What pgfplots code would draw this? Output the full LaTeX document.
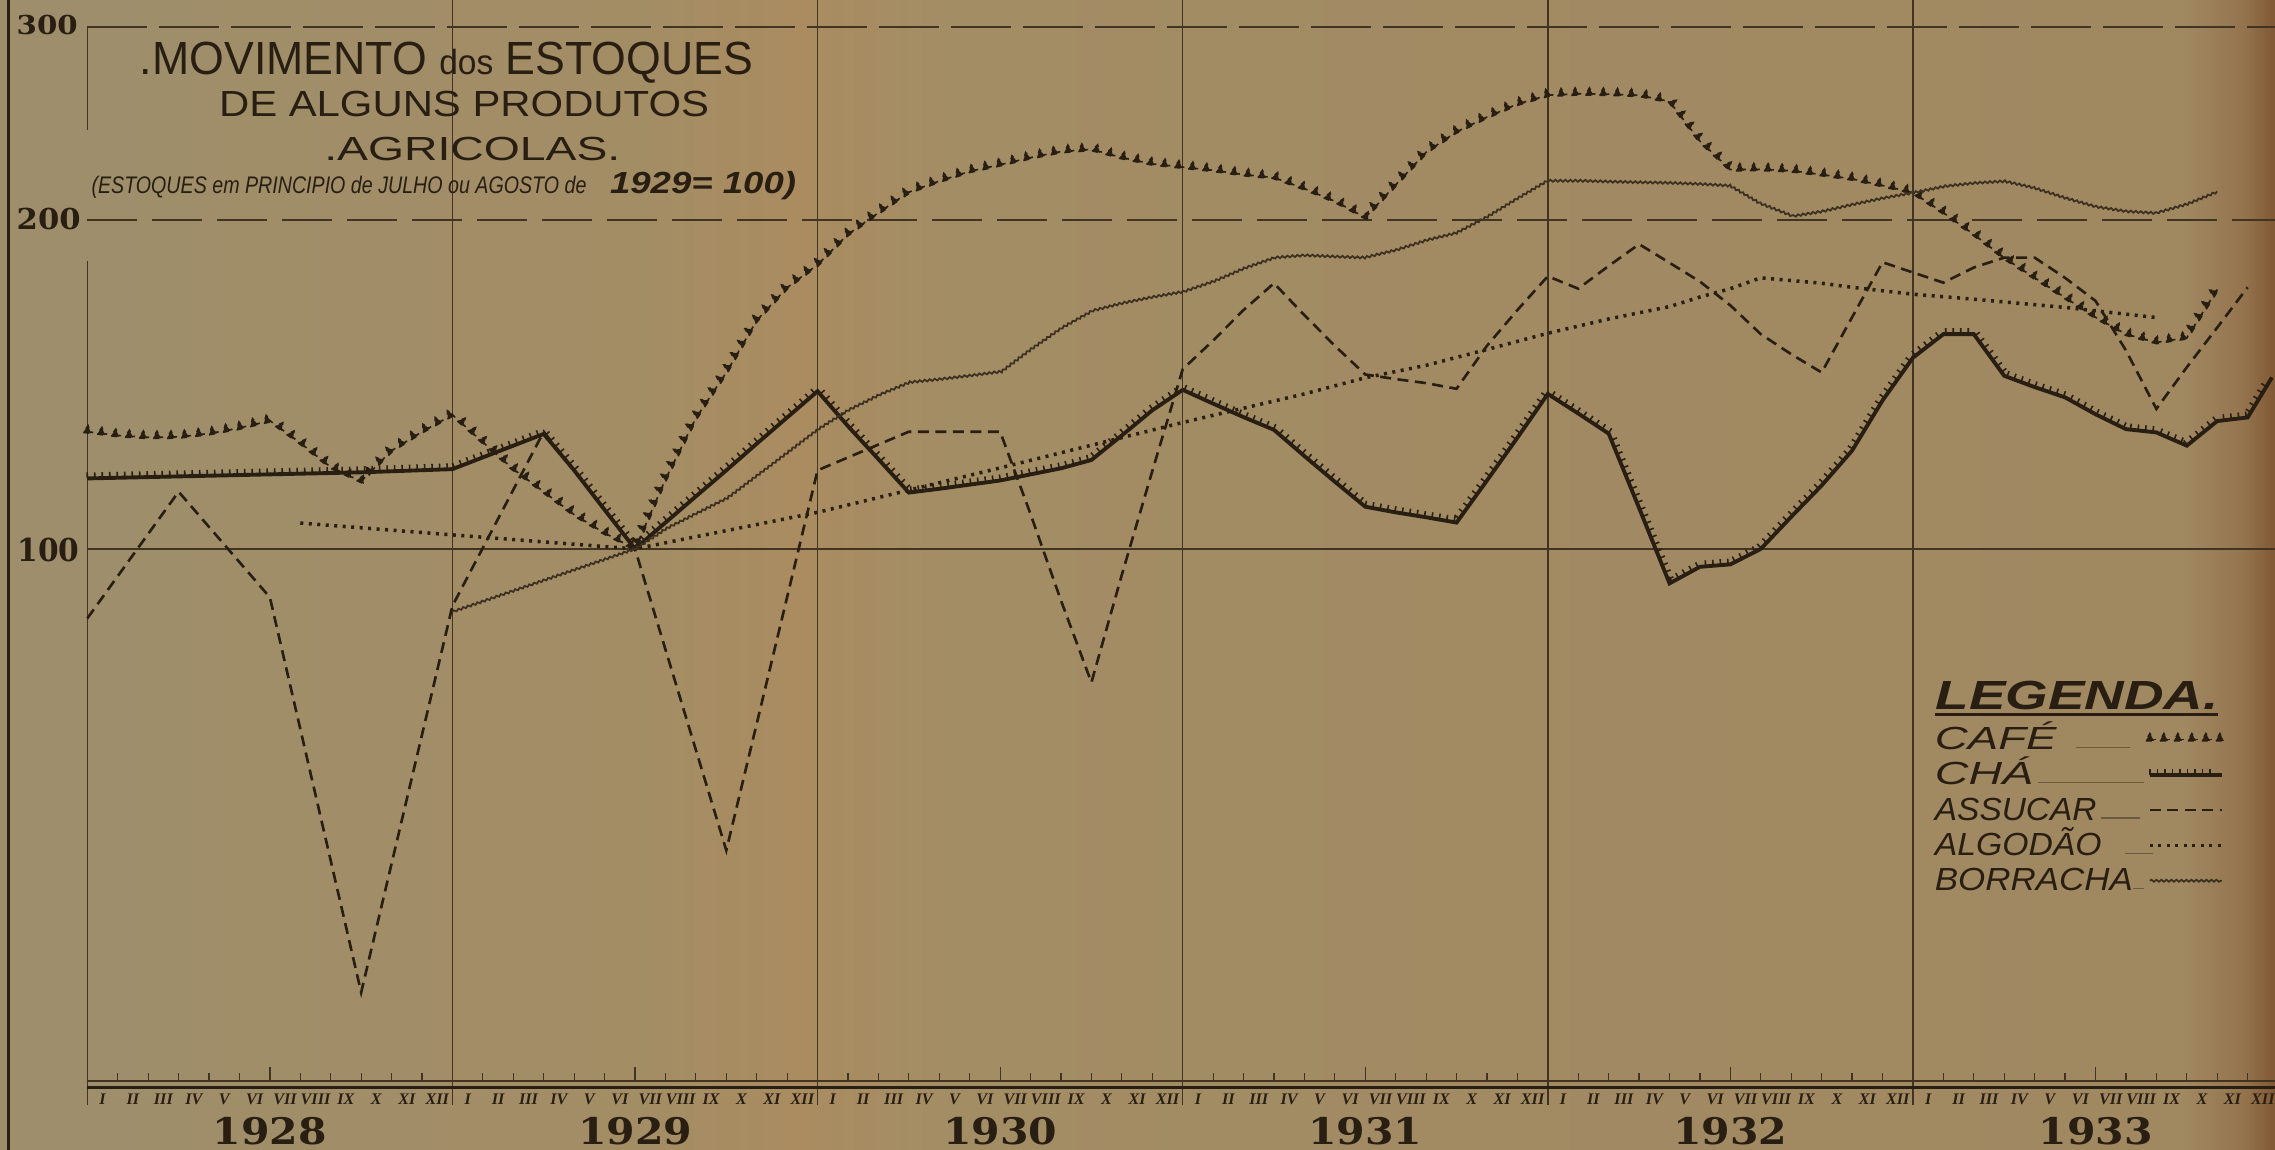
\documentclass[border=0pt]{standalone}
\usepackage{fontspec}
\setmainfont{Liberation Sans}
\newfontfamily\hand{Liberation Sans}
\newfontfamily\numfont{DejaVu Serif}
\newfontfamily\romfont{Liberation Serif}
\usepackage{graphicx}
\usepackage{pgfplots}
\pgfplotsset{compat=1.18}
\usetikzlibrary{decorations.markings,decorations.pathreplacing,decorations.pathmorphing}

\definecolor{ink}{RGB}{40,30,18}
\definecolor{inkb}{RGB}{60,48,32}
\definecolor{gridc}{RGB}{66,52,34}
\definecolor{lead}{RGB}{105,90,66}
\definecolor{pA}{RGB}{158,142,108}
\definecolor{pB}{RGB}{163,141,101}
\definecolor{pC}{RGB}{170,140,96}
\definecolor{pD}{RGB}{163,141,101}
\definecolor{pE}{RGB}{160,136,97}
\definecolor{pF}{RGB}{148,116,78}
\definecolor{pG}{RGB}{128,88,52}
% the path maps onto 25bp..75bp of the shading
\pgfdeclarehorizontalshading{paper}{100bp}{color(0bp)=(pA); color(25bp)=(pA); color(39bp)=(pB); color(42.5bp)=(pC); color(46bp)=(pD); color(73bp)=(pE); color(74.3bp)=(pF); color(75bp)=(pG); color(100bp)=(pG)}

\newlength\fbw \newlength\fbh
\newcommand\fitbox[4]{{#1\settowidth\fbw{#4}\settoheight\fbh{H}%
  \pgfmathsetmacro\fbsx{#2/\fbw}\pgfmathsetmacro\fbsy{#3/\fbh}%
  \scalebox{\fbsx}[\fbsy]{#4}}}
\newcommand\legtext[4]{\makebox[20.95mm][l]{\fitbox{\hand\itshape}{#1}{2.2mm}{#2}\hspace*{#3}\textcolor{lead}{\rule[0.15mm]{#4}{0.35pt}}}}
\newcommand\rom[1]{{\romfont\bfseries\itshape\fontsize{4.6pt}{5pt}\selectfont #1}}

\tikzset{
  cafe/.style={ink, line width=0.45pt, dash pattern=on 0.6mm off 0.8mm,
    postaction={decorate, decoration={markings, mark=between positions 0 and 1 step 1.4mm with {\fill[ink] (-0.4mm,-0.12mm) -- (0.4mm,-0.12mm) -- (0mm,0.6mm) -- cycle;}}}},
  cha/.style={ink, line width=1.1pt, solid,
    postaction={draw, ink, line width=0.45pt, solid, decorate, decoration={border, segment length=0.75mm, amplitude=0.6mm, angle=90}}},
  assucar/.style={ink, line width=0.75pt, dash pattern=on 1.1mm off 0.65mm},
  algodao/.style={ink, line width=1.0pt, dash pattern=on 0.3mm off 0.55mm},
  borracha/.style={inkb, line width=0.5pt, solid, decorate, decoration={snake, amplitude=0.1mm, segment length=0.5mm}},
  gl/.style={gridc, line width=0.45pt},
}

\begin{document}
\begin{tikzpicture}
\shade[shading=paper] (0,0) rectangle (22.75cm,11.5cm);
\begin{axis}[at={(0,0)}, anchor=south west, scale only axis,
  width=22.75cm, height=11.5cm,
  xmin=-2.87, xmax=71.9, ymode=log, ymin=28.2, ymax=317.8,
  axis lines=none, xtick=\empty, ytick=\empty, clip=false,
  legend cell align=left, legend plot pos=right,
  legend image code/.code={\draw[#1] (0mm,0.3mm) -- (7.2mm,0.3mm);},
  legend style={at={(rel axis cs:0.85022,0.36961)}, anchor=north west, draw=none, fill=none,
    inner sep=0pt, outer sep=0pt, row sep=0pt, column sep=0pt,
    nodes={inner sep=0.065mm, text height=2.4mm, text depth=1.0mm, text=ink}},
]
% frame and grid
\draw[gl, dash pattern=on 6mm off 1.2mm] (axis cs:0,300) -- (axis cs:71.9,300);
\draw[gl, dash pattern=on 5mm off 1.5mm] (axis cs:0,200) -- (axis cs:71.9,200);
\draw[gl] (axis cs:0,100) -- (axis cs:71.9,100);
\pgfplotsinvokeforeach{12,24,36,48,60}{\draw[gl] (axis cs:#1,317.8) -- (axis cs:#1,31.0);}
\draw[gl] (axis cs:0,300) -- (axis cs:0,241.5);
\draw[gl] (axis cs:0,183.4) -- (axis cs:0,31.0);
\draw[ink, line width=0.9pt] (axis cs:-2.6,317.8) -- (axis cs:-2.6,28.2);
\draw[gl, line width=0.4pt] (axis cs:0,32.61) -- (axis cs:71.9,32.61);
\draw[ink, line width=0.75pt] (axis cs:0,32.16) -- (axis cs:71.9,32.16);
\pgfplotsinvokeforeach{1,...,71}{\draw[gl, line width=0.35pt] (axis cs:#1,32.61) -- (axis cs:#1,33.16);}
\pgfplotsinvokeforeach{6,18,30,42,54,66}{\draw[gl, line width=0.35pt] (axis cs:#1,32.61) -- (axis cs:#1,33.61);}
% month numerals
\pgfplotsinvokeforeach{0,12,24,36,48,60}{
  \node[anchor=base, inner sep=0, text=ink, xshift=0.1521cm] at (axis cs:#1,31.03) {\rom{I}};
  \node[anchor=base, inner sep=0, text=ink, xshift=0.4564cm] at (axis cs:#1,31.03) {\rom{II}};
  \node[anchor=base, inner sep=0, text=ink, xshift=0.7607cm] at (axis cs:#1,31.03) {\rom{III}};
  \node[anchor=base, inner sep=0, text=ink, xshift=1.0649cm] at (axis cs:#1,31.03) {\rom{IV}};
  \node[anchor=base, inner sep=0, text=ink, xshift=1.3692cm] at (axis cs:#1,31.03) {\rom{V}};
  \node[anchor=base, inner sep=0, text=ink, xshift=1.6735cm] at (axis cs:#1,31.03) {\rom{VI}};
  \node[anchor=base, inner sep=0, text=ink, xshift=1.9777cm] at (axis cs:#1,31.03) {\rom{VII}};
  \node[anchor=base, inner sep=0, text=ink, xshift=2.2820cm] at (axis cs:#1,31.03) {\rom{VIII}};
  \node[anchor=base, inner sep=0, text=ink, xshift=2.5863cm] at (axis cs:#1,31.03) {\rom{IX}};
  \node[anchor=base, inner sep=0, text=ink, xshift=2.8906cm] at (axis cs:#1,31.03) {\rom{X}};
  \node[anchor=base, inner sep=0, text=ink, xshift=3.1948cm] at (axis cs:#1,31.03) {\rom{XI}};
  \node[anchor=base, inner sep=0, text=ink, xshift=3.4991cm] at (axis cs:#1,31.03) {\rom{XII}};
}
% year labels
\node[anchor=base, inner sep=0, text=ink] at (axis cs:6,28.54) {\fitbox{\numfont\bfseries}{11.4mm}{2.67mm}{1928}};
\node[anchor=base, inner sep=0, text=ink] at (axis cs:18,28.54) {\fitbox{\numfont\bfseries}{11.4mm}{2.67mm}{1929}};
\node[anchor=base, inner sep=0, text=ink] at (axis cs:30,28.54) {\fitbox{\numfont\bfseries}{11.4mm}{2.67mm}{1930}};
\node[anchor=base, inner sep=0, text=ink] at (axis cs:42,28.54) {\fitbox{\numfont\bfseries}{11.4mm}{2.67mm}{1931}};
\node[anchor=base, inner sep=0, text=ink] at (axis cs:54,28.54) {\fitbox{\numfont\bfseries}{11.4mm}{2.67mm}{1932}};
\node[anchor=base, inner sep=0, text=ink] at (axis cs:66,28.54) {\fitbox{\numfont\bfseries}{11.4mm}{2.67mm}{1933}};
% y labels
\node[anchor=base west, inner sep=0, text=ink] at (rel axis cs:0.00702,0.96999) {\fitbox{\numfont\bfseries}{6.1mm}{1.9mm}{300}};
\node[anchor=base west, inner sep=0, text=ink] at (rel axis cs:0.00702,0.80025) {\fitbox{\numfont\bfseries}{6.4mm}{2.1mm}{200}};
\node[anchor=base west, inner sep=0, text=ink] at (rel axis cs:0.00733,0.51135) {\fitbox{\numfont\bfseries}{6.2mm}{2.3mm}{100}};
% title
\node[anchor=base west, inner sep=0, text=ink] at (rel axis cs:0.06122,0.93506) {\fitbox{\hand}{61.3mm}{3.2mm}{.MOVIMENTO {\fontsize{7.5pt}{8pt}\selectfont dos} ESTOQUES}};
\node[anchor=base west, inner sep=0, text=ink] at (rel axis cs:0.09598,0.89849) {\fitbox{\hand}{49.0mm}{2.5mm}{DE ALGUNS PRODUTOS}};
\node[anchor=base west, inner sep=0, text=ink] at (rel axis cs:0.14222,0.86028) {\fitbox{\hand}{29.6mm}{2.3mm}{.AGRICOLAS.}};
\node[anchor=base west, inner sep=0, text=ink] at (rel axis cs:0.03992,0.8319) {\fitbox{\hand\itshape}{49.5mm}{1.65mm}{(ESTOQUES em PRINCIPIO de JULHO ou AGOSTO de}};
\node[anchor=base west, inner sep=0, text=ink] at (rel axis cs:0.26786,0.8319) {\fitbox{\hand\bfseries\itshape}{18.6mm}{2.1mm}{1929= 100)}};
% legend title
\node[anchor=base west, inner sep=0, text=ink] at (rel axis cs:0.85051,0.38298) {\fitbox{\hand\bfseries\itshape}{28.3mm}{2.8mm}{LEGENDA.}};
\draw[ink, line width=0.9pt] (rel axis cs:0.85051,0.37894) -- (rel axis cs:0.975,0.37894);

% CAFE
\addplot[cafe] coordinates {
(0,128)(1,127)(2,126.5)(3,126.6)(4,127.5)(5,129)(6,131)(7,125)(8,118.8)(9,115.3)(10,123)(11,128)
(12,132.6)(13,125.2)(14,118.3)(15,112.8)(16,107.5)(17,103.4)(18,100)(19,115.8)(20,131.7)(21,145)(22,161.8)(23,173.4)
(24,182)(25,194)(26,203)(27,212)(28,217)(29,221.5)(30,224.6)(31,228)(32,230.9)(33,232)(34,228)(35,225)
(36,223.5)(37,222)(38,220)(39,218.6)(40,213.6)(41,208)(42,201)(43,215.3)(44,230.6)(45,240.7)(46,248.3)(47,255.2)
(48,260)(49,260.8)(50,260.6)(51,260)(52,256.6)(53,236)(54,222.3)(55,222.4)(56,221.8)(57,220)(58,218)(59,215)
(60,211.8)(61,203)(62,194)(63,184.6)(64,177)(65,169.8)(66,162.9)(67,157.2)(68,154.5)(69,156)(70,172.7)
};
\addlegendentry{\legtext{12.17mm}{CAFÉ}{1.96mm}{5.37mm}}
% CHA
\addplot[cha] coordinates {
(0,116)(3,116.5)(6,117)(9,117.5)(12,118.3)(15,127.4)(16,118)(17,108.6)(18,100)(19,105.7)(20,111.7)(21,118)(22,124.8)(23,131.9)
(24,139.4)(25,129.5)(26,120.8)(27,112.6)(28,113.5)(29,114.5)(30,115.5)(31,117)(32,118.5)(33,120.6)(34,127)(35,133.9)
(36,139.8)(37,135.8)(38,132)(39,128.5)(40,121.6)(41,115.2)(42,109.3)(43,108)(44,106.9)(45,105.7)(46,115.5)(47,126.4)
(48,138.6)(49,133)(50,127.5)(51,109)(52,93)(53,96.3)(54,96.8)(55,100)(56,107)(57,114.3)(58,123)(59,136.7)
(60,149.6)(61,157.2)(62,157.2)(63,144)(64,140.6)(65,137.6)(66,132.8)(67,128.7)(68,127.8)(69,124.3)(70,130.9)(71,131.9)(71.8,143.5)
};
\addlegendentry{\legtext{9.82mm}{CHÁ}{0.5mm}{10.6mm}}
% ASSUCAR
\addplot[assucar] coordinates {
(0,86.4)(3,112.8)(6,90.3)(9,39.3)(12,88.7)(15,128)(18,100)(21,53)(24,118)(27,128)(30,128)(31,107.6)(32,89.7)(33,75.5)(34,94.7)(35,117.8)
(36,146)(37,155.1)(38,165.4)(39,175)(40,163.6)(41,153.4)(42,144.4)(43,143)(44,141.8)(45,140.1)(46,153.4)(47,165.4)
(48,177.6)(49,173)(50,181.5)(51,190)(52,182.7)(53,175.6)(54,167)(55,157.2)(56,150.7)(57,145)(58,162.9)(59,182.9)
(60,179)(61,175.2)(62,180.9)(63,184.7)(64,184.7)(65,177)(66,168.6)(67,151.9)(68,134.3)(69,146.6)(70,159.4)(71,173.5)
};
\addlegendentry{\legtext{16.16mm}{ASSUCAR}{0.4mm}{3.9mm}}
% ALGODAO
\addplot[algodao] coordinates {
(7,105.6)(12,103)(18,100)(24,108)(30,118.6)(36,130.5)(38,134.5)(40,138.6)(42,143.4)(44,147.2)(46,152.2)
(48,157.5)(50,162.3)(52,166.6)(53,170)(54,173)(55,177)(56,176)(57,175)(58,173.5)(60,171)(62,169.2)(65,166.3)(68,162.8)
};
\addlegendentry{\legtext{16.67mm}{ALGODÃO}{2.3mm}{2.8mm}}
% BORRACHA
\addplot[borracha] coordinates {
(12,87.6)(18,100)(19,104.3)(20,107.7)(21,111.2)(22,116.7)(23,122.5)
(24,128.6)(25,133.9)(26,138.2)(27,141.9)(28,142.8)(29,143.9)(30,145.1)(31,152.3)(32,159.2)(33,165)(34,167.7)(35,169.9)
(36,171.8)(37,175.6)(38,180.5)(39,184.6)(40,185.5)(41,185)(42,184.6)(43,187.5)(44,191.4)(45,194.4)(46,201)(47,209)
(48,217)(49,217)(50,216.6)(51,216.3)(52,216)(53,215.5)(54,214.7)(55,206.8)(56,201.7)(57,203.8)(58,206.8)(59,209.6)
(60,212)(61,214.8)(62,216.3)(63,217.1)(64,214)(65,209.6)(66,205.8)(67,203.8)(68,203)(69,206.8)(70,212.3)
};
\addlegendentry{\legtext{19.8mm}{BORRACHA}{0mm}{1.1mm}}
\end{axis}
\pgfresetboundingbox
\path (0,0) rectangle (22.75cm,11.5cm);
\end{tikzpicture}
\end{document}
